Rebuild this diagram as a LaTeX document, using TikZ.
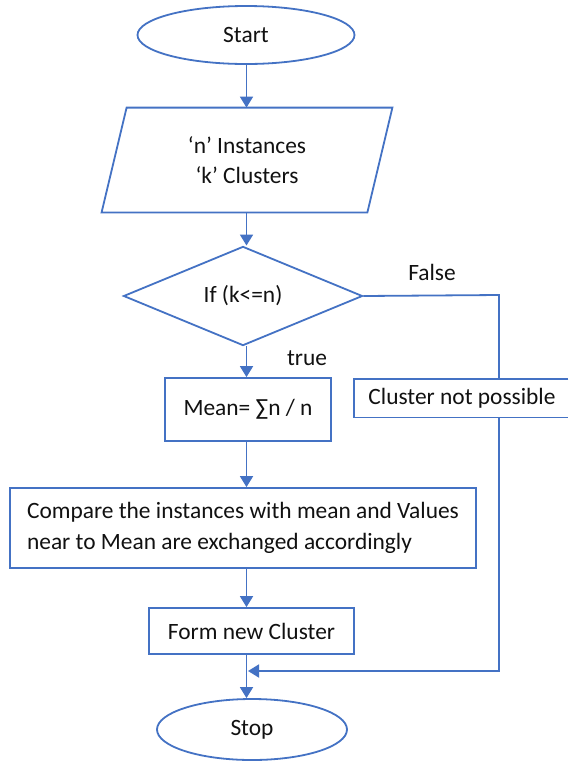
\documentclass[tikz,border=0pt]{standalone}
\usepackage{fontspec}
\setmainfont{Carlito}
\usetikzlibrary{shapes.geometric,arrows.meta}
\definecolor{fcblue}{HTML}{4472C4}
\definecolor{fctext}{HTML}{111111}
\begin{document}
\begin{tikzpicture}[x=0.5pt,y=-0.5pt,
  every node/.style={text=fctext,font=\fontsize{11.7}{15}\selectfont},
  boxnode/.style={draw=fcblue,line width=0.9pt,rectangle,inner sep=0pt},
  ovalnode/.style={draw=fcblue,line width=0.9pt,ellipse,inner sep=0pt},
  decnode/.style={draw=fcblue,line width=0.9pt,diamond,inner sep=0pt},
  ln/.style={draw=fcblue,line width=0.9pt},
  arr/.style={ln,-{Triangle[length=5.5pt,width=6.5pt]}}]
\useasboundingbox (0,0) rectangle (570,761);
\fill[white] (0,0) rectangle (570,761);

\node[ovalnode,minimum width=108.5pt,minimum height=29pt] (start) at (246,35) {Start};
\node[rectangle,inner sep=0pt,minimum width=120pt,minimum height=52pt,align=center] (inp) at (247,160) {‘n’ Instances\\‘k’ Clusters};
\draw[ln] (inp.north west) -- ([xshift=12.5pt]inp.north east) -- (inp.south east) -- ([xshift=-12.5pt]inp.south west) -- cycle;
\node[decnode,minimum width=119.5pt,minimum height=44pt] (dec) at (243,296) {If (k<=n)};
\node (false) at (432,272) {False};
\node (true) at (307,358) {true};
\node[boxnode,minimum width=83pt,minimum height=31.5pt] (mean) at (248,409.5) {Mean= ∑n / n};
\node[rectangle,inner sep=0pt,minimum width=108pt,minimum height=19pt] (nop) at (462,398) {Cluster not possible};
\draw[ln] ([xshift=-1pt]nop.north east) -- (nop.north west) -- (nop.south west) -- ([xshift=-1pt]nop.south east);
\node[boxnode,minimum width=233pt,minimum height=40pt,align=left,font=\fontsize{11.7}{15.5}\selectfont] (cmp) at (243,528) {Compare the instances with mean and Values\\near to Mean are exchanged accordingly};
\node[boxnode,minimum width=102.5pt,minimum height=23pt] (form) at (251.5,631) {Form new Cluster};
\node[ovalnode,minimum width=95pt,minimum height=30.5pt] (stop) at (252,729.5) {Stop};

\coordinate (ax) at (246.5,0);
\coordinate (fr) at (499,295);
\coordinate (mg) at (248,671);

\draw[arr] (start.south -| ax) -- (inp.north -| ax);
\draw[arr] (inp.south -| ax) -- (dec.north -| ax);
\draw[arr] (dec.south -| ax) -- (mean.north -| ax);
\draw[arr] (mean.south -| ax) -- (cmp.north -| ax);
\draw[arr] (cmp.south -| ax) -- (form.north -| ax);
\draw[arr] (form.south -| ax) -- (stop.north -| ax);
\draw[ln] (dec.east) -- (fr) -- (fr |- nop.north);
\draw[arr] (fr |- nop.south) -- (fr |- mg) -- (mg);
\end{tikzpicture}
\end{document}
